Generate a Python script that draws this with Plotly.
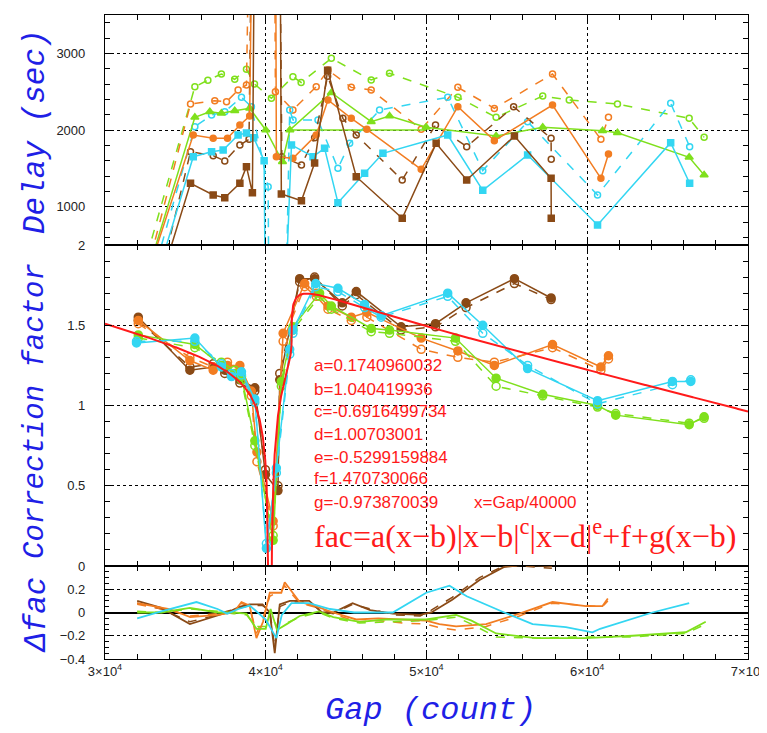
import numpy as np
import plotly.graph_objects as go
from plotly.subplots import make_subplots

# ---------------- colours ----------------
BROWN = "#8a4a16"
ORANGE = "#f27d22"
CYAN = "#33d6f2"
GREEN = "#7fe01c"
RED = "#ff1a1a"
BLUE = "#1f1fe6"

# ---------------- top panel: Delay (sec) ----------------
brown_solid_top_x = [32000, 35320, 36730, 37450, 38390, 38800, 39170, 39450, 40800, 40970, 42220, 43040, 43850, 45630, 48490, 50600, 52500, 55470, 57750, 57760]
brown_solid_top_y = [-962, 1305, 1152, 1117, 1305, 1522, 1183, 9000, 9000, 1165, 1078, 1570, 2780, 1391, 849, 1826, 1348, 1922, 1370, 849]
brown_dash_top_x = [32000, 35320, 36730, 37450, 38390, 38960, 39350, 40700, 41000, 42220, 43040, 43850, 44800, 45630, 48490, 50560, 52500, 55420, 57750, 57760]
brown_dash_top_y = [-1188, 1717, 1665, 1596, 1805, 1880, 9000, 9000, 1650, 1544, 1900, 2700, 2152, 1935, 1348, 2065, 1783, 2304, 1891, 1620]

orange_solid_top_x = [32000, 35490, 36730, 37620, 38390, 39000, 39400, 40550, 40660, 41690, 43140, 43870, 45320, 46290, 49670, 51950, 54220, 57840, 60850, 61320]
orange_solid_top_y = [-300, 1935, 1891, 1891, 2065, 2182, 9000, 9000, 1652, 1630, 1935, 2391, 2152, 2009, 1487, 2304, 1861, 2326, 1370, 1687]
orange_dash_top_x = [32000, 35320, 36830, 37560, 38280, 38800, 39300, 40450, 40600, 41690, 43140, 43870, 45320, 46560, 49670, 51950, 54220, 57840, 60850, 61320]
orange_dash_top_y = [-338, 2339, 2382, 2369, 2522, 2587, 9000, 9000, 2500, 2261, 2565, 2782, 2556, 2522, 2009, 2556, 2282, 2730, 1878, 2165]

cyan_solid_top_x = [32000, 35490, 36630, 37350, 38280, 38800, 39250, 39900, 40200, 40500, 41600, 42940, 43660, 44490, 46150, 47290, 51320, 53500, 56290, 60640, 65190, 66370]
cyan_solid_top_y = [-769, 1652, 1717, 1739, 1935, 1961, 1900, 1600, -6000, -4000, 1805, 1652, 1761, 1052, 1435, 1696, 1935, 1213, 1674, 761, 1835, 1305]
cyan_dash_top_x = [32000, 35590, 36630, 37450, 38490, 39110, 40150, 40300, 40900, 41490, 41700, 43250, 44490, 45220, 47080, 51320, 53500, 56290, 60640, 65190, 66370]
cyan_dash_top_y = [-631, 2043, 2195, 2239, 2426, 2304, 1261, -4000, -4000, 2261, 2130, 2130, 1500, 1826, 2261, 2426, 1470, 2109, 1152, 2348, 1783]

green_solid_top_x = [32000, 35590, 36520, 37240, 38070, 39000, 40000, 41040, 41500, 44080, 46560, 47700, 49980, 54330, 57230, 60950, 61880, 66340, 67270]
green_solid_top_y = [-305, 2165, 2239, 2220, 2250, 2283, 2000, 1587, 2000, 2487, 2109, 2183, 2035, 1922, 2035, 1991, 1965, 1644, 1413]
green_flat_top_x = [41500, 49980]
green_flat_top_y = [2000, 2000]
green_dash_top_x = [32000, 35590, 36400, 37240, 38070, 38800, 39300, 40350, 41690, 42200, 44080, 46560, 47700, 51960, 54330, 57230, 58880, 61880, 66340, 67270]
green_dash_top_y = [-93, 2565, 2650, 2730, 2661, 2791, 2600, 2413, 2695, 2620, 2935, 2652, 2739, 2426, 2165, 2443, 2391, 2339, 2152, 1904]

# ---------------- middle panel: Correction factor ----------------
brown_mid_x = [32070, 35280, 36730, 37450, 38390, 39320, 39980, 40760, 40870, 42110, 43040, 44760, 45630, 48420, 50560, 52460, 55470, 57750]
brown_mid_y = [1.55, 1.22, 1.24, 1.22, 1.16, 1.11, 0.57, 0.47, 1.16, 1.79, 1.79, 1.64, 1.71, 1.49, 1.51, 1.64, 1.79, 1.67]
brown_mid2_y = [1.53, 1.24, 1.26, 1.20, 1.14, 1.09, 0.60, 0.50, 1.20, 1.77, 1.80, 1.62, 1.69, 1.47, 1.49, 1.61, 1.76, 1.66]

orange_mid_x = [32070, 35280, 36730, 37620, 38390, 39100, 39450, 40460, 41080, 42420, 43140, 43870, 45320, 46290, 49670, 51950, 54220, 57840, 60850, 61320]
orange_mid_y = [1.53, 1.28, 1.22, 1.25, 1.25, 1.09, 0.71, 0.28, 1.45, 1.76, 1.70, 1.62, 1.55, 1.58, 1.42, 1.34, 1.25, 1.38, 1.24, 1.31]
orange_mid2_y = [1.51, 1.30, 1.24, 1.27, 1.22, 1.06, 0.65, 0.25, 1.40, 1.74, 1.68, 1.60, 1.53, 1.55, 1.35, 1.30, 1.27, 1.36, 1.22, 1.29]

cyan_mid_x = [31960, 35590, 37240, 37870, 38490, 39320, 40040, 40660, 41490, 41690, 43110, 44490, 46150, 47180, 51320, 53500, 56290, 60640, 65300, 66440]
cyan_mid_y = [1.39, 1.42, 1.24, 1.18, 1.21, 1.04, 0.11, 0.61, 1.35, 1.47, 1.76, 1.73, 1.63, 1.56, 1.70, 1.50, 1.23, 1.03, 1.15, 1.15]
cyan_mid2_y = [1.40, 1.40, 1.26, 1.20, 1.19, 1.02, 0.14, 0.58, 1.32, 1.45, 1.74, 1.71, 1.61, 1.55, 1.68, 1.45, 1.25, 1.01, 1.13, 1.16]

green_mid_x = [32070, 35590, 37240, 38070, 38490, 39320, 40460, 40970, 41690, 43350, 44080, 46560, 47700, 51800, 54330, 57230, 60640, 61770, 66340, 67270]
green_mid_y = [1.44, 1.38, 1.25, 1.20, 1.18, 0.78, 0.16, 1.15, 1.49, 1.70, 1.62, 1.48, 1.47, 1.42, 1.17, 1.07, 1.00, 0.94, 0.88, 0.93]
green_mid2_y = [1.42, 1.36, 1.27, 1.22, 1.16, 0.75, 0.19, 1.12, 1.47, 1.68, 1.60, 1.46, 1.45, 1.40, 1.12, 1.06, 0.99, 0.95, 0.89, 0.92]

# fit parameters (as printed on the chart)
fit_a = 0.1740960032
fit_b = 1.040419936
fit_c = -0.6916499734
fit_d = 1.00703001
fit_e = -0.5299159884
fit_f = 1.470730066
fit_g = -0.973870039
fit_scale = 40000.0

# ---------------- bottom panel: delta fac ----------------
brown_dfac_x = [32000, 33500, 35280, 36700, 37600, 38400, 39000, 39800, 40250, 40560, 40870, 41500, 42700, 43500, 44200, 45400, 46500, 47900, 49600, 50300, 51600, 53300, 54800, 56000, 57800]
brown_dfac_y = [0.10, 0.04, -0.10, -0.04, 0.0, 0.05, 0.07, 0.07, 0.0, -0.35, 0.07, 0.10, 0.10, 0.0, 0.0, 0.08, 0.02, -0.01, -0.02, 0.0, 0.11, 0.28, 0.39, 0.41, 0.40]
brown_dfac2_y = [0.08, 0.03, -0.08, -0.03, 0.01, 0.04, 0.06, 0.06, 0.02, -0.30, 0.05, 0.09, 0.09, 0.01, -0.01, 0.07, 0.03, -0.02, -0.03, 0.02, 0.13, 0.30, 0.40, 0.40, 0.38]

orange_dfac_x = [32000, 34000, 35300, 37000, 38000, 38490, 39000, 39420, 39830, 40250, 40970, 41180, 42110, 43000, 44200, 45630, 47000, 48500, 49980, 50800, 51840, 53710, 55780, 57840, 59920, 60950, 61280]
orange_dfac_y = [0.08, 0.03, -0.04, -0.02, 0.0, 0.09, 0.06, -0.22, -0.08, 0.17, 0.17, 0.26, 0.09, 0.06, 0.0, -0.06, -0.05, -0.06, -0.07, -0.10, -0.12, -0.10, -0.01, 0.09, 0.055, 0.055, 0.12]
orange_dfac2_y = [0.07, 0.02, -0.03, -0.01, 0.01, 0.08, 0.05, -0.18, -0.05, 0.14, 0.19, 0.23, 0.08, 0.05, -0.01, -0.08, -0.07, -0.09, -0.10, -0.13, -0.15, -0.12, -0.03, 0.08, 0.06, 0.05, 0.10]

cyan_dfac_x = [32000, 33500, 35690, 37000, 37600, 38300, 39000, 39500, 40000, 40660, 41000, 41600, 42700, 44000, 45500, 47900, 49980, 51430, 52500, 54840, 56600, 58670, 60320, 60800, 64050, 66340]
cyan_dfac_y = [-0.05, 0.01, 0.09, 0.03, -0.01, 0.03, 0.06, 0.0, -0.06, -0.22, -0.02, 0.08, 0.08, 0.03, 0.0, 0.0, 0.17, 0.23, 0.14, 0.0, -0.10, -0.125, -0.17, -0.14, 0.0, 0.08]

green_dfac_x = [32000, 33500, 35280, 37000, 38000, 38800, 39420, 40000, 40300, 40700, 41300, 42110, 43300, 44200, 45840, 47500, 49980, 51840, 52800, 54330, 56810, 59920, 62810, 66130, 67370]
green_dfac_y = [0.0, 0.0, 0.04, 0.0, 0.0, -0.01, -0.14, -0.14, 0.03, -0.15, -0.10, -0.03, 0.01, -0.04, -0.08, -0.06, -0.06, -0.02, -0.07, -0.18, -0.22, -0.22, -0.20, -0.17, -0.08]
green_dfac2_y = [0.01, 0.0, 0.03, 0.01, -0.01, -0.02, -0.12, -0.12, 0.01, -0.13, -0.09, -0.04, 0.0, -0.05, -0.09, -0.08, -0.07, -0.04, -0.10, -0.21, -0.22, -0.21, -0.21, -0.18, -0.10]

x_tickvals = [30000, 40000, 50000, 60000, 70000]
x_ticktext = ["3×10<sup>4</sup>", "4×10<sup>4</sup>", "5×10<sup>4</sup>", "6×10<sup>4</sup>", "7×10<sup>4</sup>"]

param_lines = ["a=0.1740960032", "b=1.040419936", "c=-0.6916499734", "d=1.00703001",
               "e=-0.5299159884", "f=1.470730066", "g=-0.973870039"]

# ---------------- figure ----------------
fig = make_subplots(rows=3, cols=1, shared_xaxes=True, vertical_spacing=0,
                    row_heights=[230, 321, 93])


def add_line(x, y, color, row, dash="solid", symbol=None, size=6, width=1.5):
    mode = "lines+markers" if symbol else "lines"
    marker = None
    if symbol:
        marker = dict(symbol=symbol, size=size, color=color,
                      line=dict(color=color, width=1.5))
    fig.add_trace(go.Scatter(x=x, y=y, mode=mode, line=dict(color=color, width=width, dash=dash),
                             marker=marker, showlegend=False, hoverinfo="skip"), row=row, col=1)


# top panel
add_line(green_dash_top_x, green_dash_top_y, GREEN, 1, "dash", "circle-open", 6)
add_line(orange_dash_top_x, orange_dash_top_y, ORANGE, 1, "dash", "circle-open", 6)
add_line(cyan_dash_top_x, cyan_dash_top_y, CYAN, 1, "dash", "circle-open", 6)
add_line(brown_dash_top_x, brown_dash_top_y, BROWN, 1, "dash", "circle-open", 6)
add_line(green_flat_top_x, green_flat_top_y, GREEN, 1)
add_line(green_solid_top_x, green_solid_top_y, GREEN, 1, "solid", "triangle-up", 7)
add_line(orange_solid_top_x, orange_solid_top_y, ORANGE, 1, "solid", "circle", 6)
add_line(cyan_solid_top_x, cyan_solid_top_y, CYAN, 1, "solid", "square", 6)
add_line(brown_solid_top_x, brown_solid_top_y, BROWN, 1, "solid", "square", 6)

# middle panel
for xs, ys, ys2, col in [(brown_mid_x, brown_mid_y, brown_mid2_y, BROWN),
                         (orange_mid_x, orange_mid_y, orange_mid2_y, ORANGE),
                         (green_mid_x, green_mid_y, green_mid2_y, GREEN),
                         (cyan_mid_x, cyan_mid_y, cyan_mid2_y, CYAN)]:
    add_line(xs, ys2, col, 2, "dash", "circle-open", 8)
    add_line(xs, ys, col, 2, "solid", "circle", 8)

gap_fit = np.sort(np.concatenate([np.linspace(30000, 70000, 1601),
                                  np.linspace(39800, 41000, 1201)]))
xr = gap_fit / fit_scale
fac = (fit_a * (xr - fit_b) * np.abs(xr - fit_b) ** fit_c * np.abs(xr - fit_d) ** fit_e
       + fit_f + fit_g * (xr - fit_b))
fac = np.clip(fac, -1.0, 3.0)
fig.add_trace(go.Scatter(x=gap_fit, y=fac, mode="lines", line=dict(color=RED, width=2),
                         showlegend=False, hoverinfo="skip"), row=2, col=1)

# bottom panel
add_line(brown_dfac_x, brown_dfac2_y, BROWN, 3, "dash", width=1.5)
add_line(orange_dfac_x, orange_dfac2_y, ORANGE, 3, "dash", width=1.5)
add_line(green_dfac_x, green_dfac2_y, GREEN, 3, "dash", width=1.5)
add_line(brown_dfac_x, brown_dfac_y, BROWN, 3, width=1.8)
add_line(orange_dfac_x, orange_dfac_y, ORANGE, 3, width=1.8)
add_line(green_dfac_x, green_dfac_y, GREEN, 3, width=1.8)
add_line(cyan_dfac_x, cyan_dfac_y, CYAN, 3, width=1.8)

# ---------------- axes ----------------
tickfont = dict(family="Liberation Sans, Arial, sans-serif", size=13, color="#222222")
common = dict(showline=True, linecolor="black", linewidth=1.2, mirror="ticks",
              ticks="inside", ticklen=7, tickwidth=1.3, tickcolor="black",
              showgrid=True, gridcolor="black", griddash="dot", gridwidth=1,
              zeroline=False, tickfont=tickfont, automargin=False)

for i in (1, 2, 3):
    fig.update_xaxes(range=[30000, 70000], tickmode="array", tickvals=x_tickvals,
                     ticktext=x_ticktext,
                     minor=dict(tickmode="linear", tick0=30000, dtick=2000, ticks="inside",
                                ticklen=5, tickcolor="black", showgrid=False),
                     row=i, col=1, **common)

fig.update_yaxes(range=[500, 3500], tickmode="array", tickvals=[1000, 2000, 3000],
                 minor=dict(tickmode="linear", tick0=0, dtick=200, ticks="inside", ticklen=5,
                            tickcolor="black", showgrid=False),
                 ticklabelstandoff=16, row=1, col=1, **common)
fig.update_yaxes(range=[0, 2], tickmode="array", tickvals=[0, 0.5, 1, 1.5, 2],
                 minor=dict(tickmode="linear", tick0=0, dtick=0.1, ticks="inside", ticklen=5,
                            tickcolor="black", showgrid=False),
                 ticklabelstandoff=16, row=2, col=1, **common)
common3 = dict(common)
common3["zeroline"] = True
fig.update_yaxes(range=[-0.4, 0.4], tickmode="array", tickvals=[-0.4, -0.2, 0, 0.2],
                 minor=dict(tickmode="linear", tick0=0, dtick=0.05, ticks="inside", ticklen=4,
                            tickcolor="black", showgrid=False),
                 zerolinecolor="black", zerolinewidth=1.5,
                 ticklabelstandoff=16, row=3, col=1, **common3)

# ---------------- annotations ----------------
# page has an 8px body margin; figure is sized so that it ends at the window edge
PAGE_OFF = 8
PLOT_L, PLOT_R, PLOT_T, PLOT_B = 105, 748, 15, 659
FIG_W, FIG_H = 767 - PAGE_OFF, 733 - PAGE_OFF

title_font = dict(family="Liberation Mono, Courier New, monospace", size=31, color=BLUE, style="italic")
ann = []
ann.append(dict(text="Delay (sec)", x=36, y=132, textangle=-90, font=title_font))
ann.append(dict(text="Correction factor", x=36, y=411, textangle=-90,
                font=dict(title_font, size=29)))
ann.append(dict(text="Δfac", x=36, y=615, textangle=-90, font=title_font))
ann.append(dict(text="Gap (count)", x=430, y=710, textangle=0, font=dict(title_font, size=32)))
annotations = []
for a in ann:
    px, py = a["x"], a["y"]
    annotations.append(dict(text=a["text"], xref="paper", yref="paper",
                            x=(px - PLOT_L) / (PLOT_R - PLOT_L), y=(PLOT_B - py) / (PLOT_B - PLOT_T),
                            xanchor="center", yanchor="middle", showarrow=False,
                            textangle=a["textangle"], font=a["font"]))

param_font = dict(family="Liberation Sans, Arial, sans-serif", size=17, color=RED)
param_y = [1.247, 1.101, 0.960, 0.821, 0.675, 0.545, 0.395]
for txt, yv in zip(param_lines, param_y):
    annotations.append(dict(text=txt, xref="x2", yref="y2", x=42877, y=yv,
                            xanchor="left", yanchor="middle", showarrow=False, font=param_font))
annotations.append(dict(text="x=Gap/40000", xref="x2", yref="y2", x=52830, y=0.395,
                        xanchor="left", yanchor="middle", showarrow=False, font=param_font))
annotations.append(dict(text="fac=a(x−b)|x−b|<sup>c</sup>|x−d|<sup>e</sup>+f+g(x−b)",
                        xref="x2", yref="y2", x=42877, y=0.198,
                        xanchor="left", yanchor="middle", showarrow=False,
                        font=dict(family="Liberation Serif, Times New Roman, serif", size=32, color=RED)))

fig.update_layout(width=FIG_W, height=FIG_H,
                  margin=dict(l=PLOT_L - PAGE_OFF, r=FIG_W - (PLOT_R - PAGE_OFF),
                              t=PLOT_T - PAGE_OFF, b=FIG_H - (PLOT_B - PAGE_OFF)),
                  paper_bgcolor="white", plot_bgcolor="white", showlegend=False,
                  annotations=annotations)

fig.write_html("out.html")
